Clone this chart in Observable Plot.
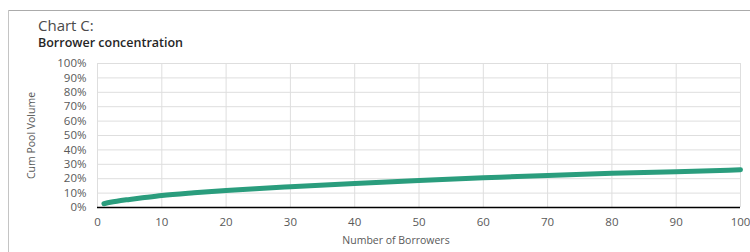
<!DOCTYPE html>
<html>
<head>
<meta charset="utf-8">
<script src="https://cdn.jsdelivr.net/npm/d3@7"></script>
<script src="https://cdn.jsdelivr.net/npm/@observablehq/plot@0.6"></script>
<style>
  html, body { margin: 0; padding: 0; background: #fff; }
  body { width: 750px; height: 252px; overflow: hidden; position: relative; font-family: "Open Sans", sans-serif; }
  #frameTop { position: absolute; left: 8px; top: 10px; width: 742px; height: 0; border-top: 1px solid #ababab; }
  #frameLeft { position: absolute; left: 8px; top: 10px; width: 0; height: 242px; border-left: 1px solid #c4c4c4; }
  #head { position: absolute; left: 38px; top: 16px; }
  #t1 { font-size: 15px; font-weight: 400; color: #4a4a4a; line-height: 18px; }
  #t2 { font-size: 12.5px; font-weight: 600; color: #262626; line-height: 17px; }
  #chart { position: absolute; left: 0; top: 55px; }
  #chart svg g[aria-label="tick label"] text, #chart svg text { font-size: 11.5px; }
  #chart svg .ttl text { font-size: 10.5px; }
</style>
</head>
<body>
<div id="frameTop"></div>
<div id="frameLeft"></div>
<div id="head">
  <div id="t1">Chart C:</div>
  <div id="t2">Borrower concentration</div>
</div>
<div id="chart"></div>
<script>
const borrowers = [1, 2, 3, 5, 7, 10, 15, 20, 30, 40, 50, 60, 70, 80, 90, 100];
const cumPoolVolume = [2.6, 3.6, 4.4, 5.6, 6.7, 8.3, 10.2, 11.8, 14.4, 16.7, 18.8, 20.6, 22.3, 23.7, 24.8, 26.2];
const xTicks = [0, 10, 20, 30, 40, 50, 60, 70, 80, 90, 100];
const yTicks = [0, 10, 20, 30, 40, 50, 60, 70, 80, 90, 100];
const xTitle = "Number of Borrowers";
const yTitle = "Cum Pool Volume";

const data = borrowers.map((b, i) => ({x: b, y: cumPoolVolume[i]}));

const chart = Plot.plot({
  width: 750,
  height: 197,
  marginTop: 8,
  marginBottom: 45,
  marginLeft: 97,
  marginRight: 10,
  style: {fontFamily: "Open Sans, sans-serif", fontSize: "11.5px", color: "#595959", background: "transparent", overflow: "visible"},
  x: {domain: [0, 100], ticks: xTicks},
  y: {domain: [0, 100], ticks: yTicks},
  marks: [
    Plot.gridX(xTicks, {stroke: "#dedede", strokeOpacity: 1}),
    Plot.gridY(yTicks, {stroke: "#dedede", strokeOpacity: 1}),
    Plot.axisX(xTicks, {tickSize: 0, tickPadding: 10, label: null, fill: "#595959"}),
    Plot.axisY(yTicks, {tickSize: 0, tickPadding: 11, label: null, fill: "#595959", tickFormat: d => d + "%"}),
    Plot.ruleY([0], {stroke: "#000", strokeWidth: 1.3}),
    Plot.line(data, {x: "x", y: "y", stroke: "#2a9d7d", strokeWidth: 5, curve: "monotone-x", strokeLinecap: "round"}),
    Plot.text([xTitle], {frameAnchor: "bottom", dy: 36, dx: -23, fill: "#595959", textAnchor: "middle", className: "ttl"}),
    Plot.text([yTitle], {frameAnchor: "left", dx: -66, rotate: -90, fill: "#595959", textAnchor: "middle", className: "ttl"})
  ]
});
document.getElementById("chart").appendChild(chart);
</script>
</body>
</html>
